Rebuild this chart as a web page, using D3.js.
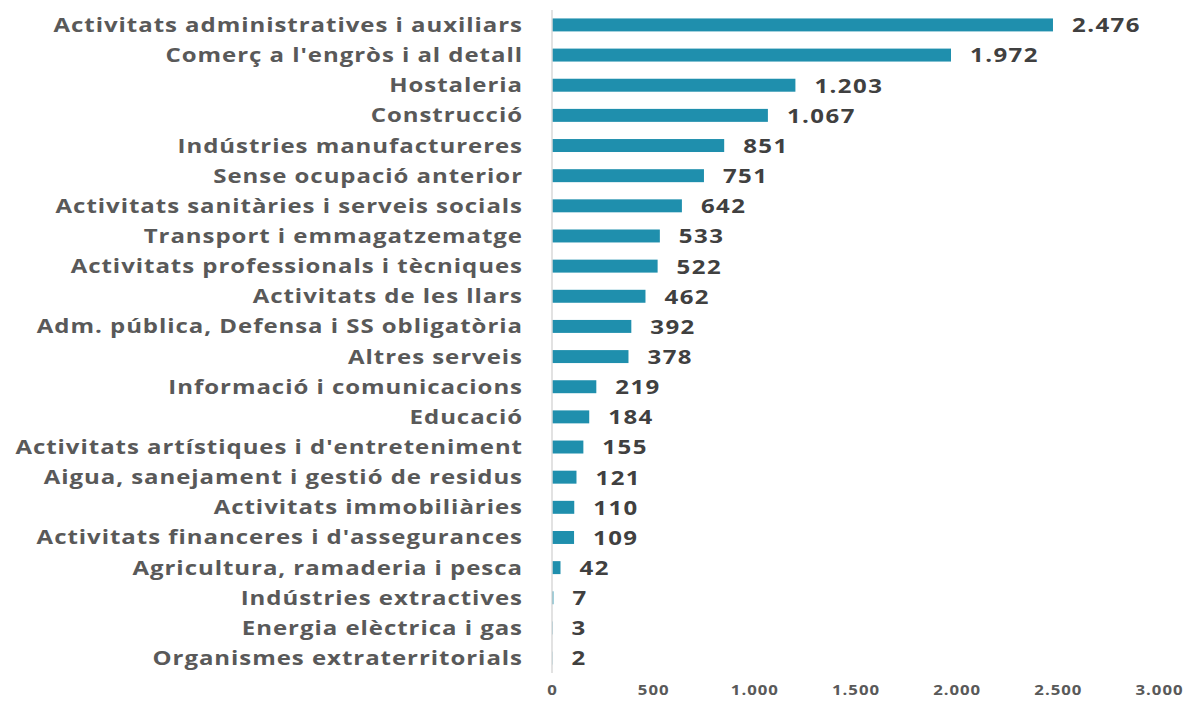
<!DOCTYPE html>
<html>
<head>
<meta charset="utf-8">
<script src="https://cdn.jsdelivr.net/npm/d3@7"></script>
<style>
  body { margin: 0; background: #fff; }
  svg { display: block; }
</style>
</head>
<body>
<svg id="chart" width="1192" height="702"></svg>
<script>
var sectors = [
    "Activitats administratives i auxiliars",
    "Comerç a l'engròs i al detall",
    "Hostaleria",
    "Construcció",
    "Indústries manufactureres",
    "Sense ocupació anterior",
    "Activitats sanitàries i serveis socials",
    "Transport i emmagatzematge",
    "Activitats professionals i tècniques",
    "Activitats de les llars",
    "Adm. pública, Defensa i SS obligatòria",
    "Altres serveis",
    "Informació i comunicacions",
    "Educació",
    "Activitats artístiques i d'entreteniment",
    "Aigua, sanejament i gestió de residus",
    "Activitats immobiliàries",
    "Activitats financeres i d'assegurances",
    "Agricultura, ramaderia i pesca",
    "Indústries extractives",
    "Energia elèctrica i gas",
    "Organismes extraterritorials"
];
var values = [2476, 1972, 1203, 1067, 851, 751, 642, 533, 522, 462, 392, 378, 219, 184, 155, 121, 110, 109, 42, 7, 3, 2];
var xTicks = [0, 500, 1000, 1500, 2000, 2500, 3000];

var locale = d3.formatLocale({ decimal: ",", thousands: ".", grouping: [3], currency: ["", "€"] });
var fmt = locale.format(",d");

var svg = d3.select("#chart"),
    left = 552,
    right = 1159,
    stretch = "scale(1.2,1)";

var x = d3.scaleLinear().domain([0, 3000]).range([left, right]);
var y = d3.scaleBand().domain(sectors).range([10, 673]).paddingInner(0.57).paddingOuter(0.28);

// bars
svg.selectAll(".bar")
    .data(values)
    .enter().append("rect")
    .attr("class", "bar")
    .attr("x", x(0))
    .attr("y", function(d, i) { return y(sectors[i]); })
    .attr("width", function(d) { return x(d) - x(0); })
    .attr("height", y.bandwidth())
    .attr("fill", "#1f8fad");

// vertical axis line
svg.append("line")
    .attr("x1", x(0)).attr("x2", x(0))
    .attr("y1", 10).attr("y2", 673)
    .attr("stroke", "#d9d9d9")
    .attr("stroke-width", 1.5);

// category labels
svg.selectAll(".cat")
    .data(sectors)
    .enter().append("g")
    .attr("class", "cat")
    .attr("transform", function(d) {
        return "translate(523," + (y(d) + y.bandwidth() / 2) + ")";
    })
    .append("text")
    .attr("transform", stretch)
    .attr("dy", "0.35em")
    .attr("text-anchor", "end")
    .style("font-family", "'Open Sans', sans-serif")
    .style("font-weight", "700")
    .style("font-size", "20px")
    .style("letter-spacing", "0.8px")
    .style("fill", "#595959")
    .text(function(d) { return d; });

// value labels
svg.selectAll(".val")
    .data(values)
    .enter().append("g")
    .attr("class", "val")
    .attr("transform", function(d, i) {
        return "translate(" + (x(d) + 19) + "," + (y(sectors[i]) + y.bandwidth() / 2) + ")";
    })
    .append("text")
    .attr("transform", stretch)
    .attr("dy", "0.37em")
    .style("font-family", "'Open Sans', sans-serif")
    .style("font-weight", "700")
    .style("font-size", "20px")
    .style("letter-spacing", "1.2px")
    .style("fill", "#404040")
    .text(function(d) { return fmt(d); });

// x axis
var xAxis = d3.axisBottom(x).tickValues(xTicks).tickSize(0).tickFormat(fmt);
var ax = svg.append("g")
    .attr("transform", "translate(0,682)")
    .call(xAxis);
ax.select(".domain").remove();
ax.selectAll("text")
    .attr("transform", stretch)
    .style("font-family", "'Open Sans', sans-serif")
    .style("font-weight", "700")
    .style("font-size", "14px")
    .style("letter-spacing", "0.8px")
    .style("fill", "#595959");
</script>
</body>
</html>
